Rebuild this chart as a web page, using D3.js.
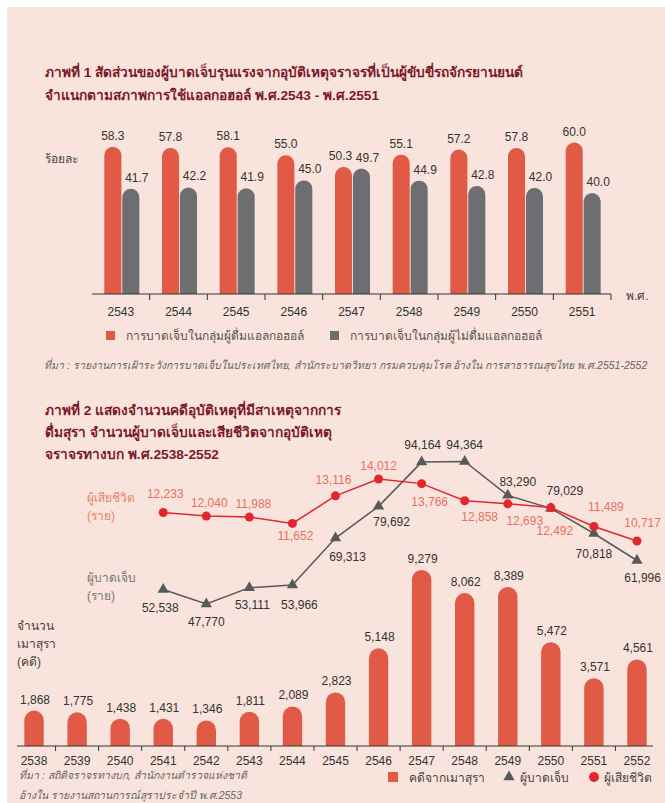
<!DOCTYPE html>
<html>
<head>
<meta charset="utf-8">
<script src="https://cdn.jsdelivr.net/npm/d3@7/dist/d3.min.js"></script>
<style>
  body { margin: 0; background: #fff; }
  svg { display: block; font-family: "Liberation Sans", "Noto Sans", sans-serif; }
  .title { fill: #7d1a2a; font-size: 13.7px; font-weight: bold; }
  .num { fill: #333; font-size: 12px; }
  .year { fill: #333; font-size: 12px; }
  .legend-text { fill: #555; font-size: 12px; }
  .source { fill: #666; font-size: 10.5px; font-style: italic; }
</style>
</head>
<body>
<div id="chart"></div>
<script>
// ภาพที่ 1
const years1 = ["2543", "2544", "2545", "2546", "2547", "2548", "2549", "2550", "2551"];
const drinkers = [58.3, 57.8, 58.1, 55.0, 50.3, 55.1, 57.2, 57.8, 60.0];
const nonDrinkers = [41.7, 42.2, 41.9, 45.0, 49.7, 44.9, 42.8, 42.0, 40.0];
const legend1 = ["การบาดเจ็บในกลุ่มผู้ดื่มแอลกอฮอล์", "การบาดเจ็บในกลุ่มผู้ไม่ดื่มแอลกอฮอล์"];

// ภาพที่ 2
const years2 = ["2538", "2539", "2540", "2541", "2542", "2543", "2544", "2545",
  "2546", "2547", "2548", "2549", "2550", "2551", "2552"];
const drunkCases = [1868, 1775, 1438, 1431, 1346, 1811, 2089, 2823, 5148, 9279, 8062, 8389, 5472, 3571, 4561];
const lineYears = ["2541", "2542", "2543", "2544", "2545", "2546", "2547", "2548", "2549", "2550", "2551", "2552"];
const injured = [52538, 47770, 53111, 53966, 69313, 79692, 94164, 94364, 83290, 79029, 70818, 61996];
const deaths = [12233, 12040, 11988, 11652, 13116, 14012, 13766, 12858, 12693, 12492, 11489, 10717];
const legend2 = ["คดีจากเมาสุรา", "ผู้บาดเจ็บ", "ผู้เสียชีวิต"];

// label nudges (layout only)
const injuredLabelOffset = [[-3, 19], [0, 18], [3, 17], [7, 20], [12, 19], [13, 16],
  [1, -17], [0, -17], [10, -13], [14, -17], [0, 20], [8, 18]];
const deathLabelOffset = [[2, -18], [3, -13], [4, -13], [3, 13], [-2, -16], [0, -13],
  [8, 18], [15, 16], [17, 17], [4, 23], [12, -19], [10, -18]];

const RED = "#e05a45";
const GRAY = "#6d6e71";
const LINE_RED = "#e3262d";
const LINE_GRAY = "#58595b";
const fmt = d3.format(",");

const W = 665, H = 803;
const svg = d3.select("#chart").append("svg")
  .attr("width", W).attr("height", H).attr("viewBox", `0 0 ${W} ${H}`);

svg.append("rect").attr("x", 7).attr("y", 7).attr("width", W - 7).attr("height", H - 7)
  .attr("fill", "#f8e4dc");

/** bar with a fully rounded top */
function roundTop(x, y, w, base) {
  const r = Math.min(w / 2, (base - y));
  return `M${x},${base}V${y + r}A${w / 2},${r} 0 0 1 ${x + w},${y + r}V${base}Z`;
}

// keep a label inside the right edge
function clampX(x, text) {
  const half = text.length * 3.4;
  return Math.min(x, W - 2 - half);
}

// —— ภาพที่ 1 ——
svg.append("text").attr("class", "title").attr("x", 45).attr("y", 77)
  .text("ภาพที่ 1 สัดส่วนของผู้บาดเจ็บรุนแรงจากอุบัติเหตุจราจรที่เป็นผู้ขับขี่รถจักรยานยนต์");
svg.append("text").attr("class", "title").attr("x", 45).attr("y", 100)
  .text("จำแนกตามสภาพการใช้แอลกอฮอล์  พ.ศ.2543 - พ.ศ.2551");

const base1 = 294;
const x0 = d3.scaleBand().domain(years1).range([92, 611]);
const x1 = d3.scaleBand().domain(["drink", "nodrink"])
  .range([(x0.bandwidth() - 35) / 2 + 1, (x0.bandwidth() + 35) / 2 + 1]).paddingInner(0.05);
const y1 = d3.scaleLinear().domain([0, 60]).range([base1, 142.5]);

const rows1 = years1.map((yr, i) => ({ year: yr, drink: drinkers[i], nodrink: nonDrinkers[i] }));
const g1 = svg.append("g");
rows1.forEach((d) => {
  [["drink", RED, 0], ["nodrink", GRAY, 6]].forEach(([k, c, dx]) => {
    const bx = x0(d.year) + x1(k);
    g1.append("path").attr("d", roundTop(bx, y1(d[k]), x1.bandwidth(), base1)).attr("fill", c);
    g1.append("text").attr("class", "num")
      .attr("x", bx + x1.bandwidth() / 2 + dx + (d.year === "2547" && k === "drink" ? -3 : 0))
      .attr("y", y1(d[k]) - 7).attr("text-anchor", "middle").text(d[k].toFixed(1));
  });
});

g1.append("line").attr("x1", 92).attr("x2", 611).attr("y1", base1).attr("y2", base1)
  .attr("stroke", "#333").attr("stroke-width", 1.2);
years1.slice(1).concat(["end"]).forEach((yr) => {
  const tx = yr === "end" ? 611 : x0(yr);
  g1.append("line").attr("x1", tx).attr("x2", tx).attr("y1", base1).attr("y2", base1 + 6)
    .attr("stroke", "#333");
});
g1.selectAll(".year").data(years1).join("text").attr("class", "year")
  .attr("x", (d) => x0(d) + x0.bandwidth() / 2).attr("y", base1 + 22)
  .attr("text-anchor", "middle").text((d) => d);

svg.append("text").attr("class", "legend-text").attr("x", 45).attr("y", 163)
  .style("fill", "#444").text("ร้อยละ");
svg.append("text").attr("class", "legend-text").attr("x", 626).attr("y", 300)
  .style("fill", "#444").text("พ.ศ.");

[[106, RED, legend1[0]], [330, GRAY, legend1[1]]].forEach(([lx, c, t]) => {
  svg.append("rect").attr("x", lx).attr("y", 331).attr("width", 9).attr("height", 9).attr("fill", c);
  svg.append("text").attr("class", "legend-text").attr("x", lx + 20).attr("y", 340).text(t);
});
svg.append("text").attr("class", "source").attr("x", 44).attr("y", 369)
  .text("ที่มา : รายงานการเฝ้าระวังการบาดเจ็บในประเทศไทย, สำนักระบาดวิทยา กรมควบคุมโรค อ้างใน การสาธารณสุขไทย พ.ศ.2551-2552");

// —— ภาพที่ 2 ——
["ภาพที่ 2 แสดงจำนวนคดีอุบัติเหตุที่มีสาเหตุจากการ",
  "ดื่มสุรา  จำนวนผู้บาดเจ็บและเสียชีวิตจากอุบัติเหตุ",
  "จราจรทางบก พ.ศ.2538-2552"].forEach((t, i) => {
  svg.append("text").attr("class", "title").attr("x", 45).attr("y", 415 + i * 22).text(t);
});

const base2 = 746;
const x2 = d3.scaleBand().domain(years2).range([12.5, 658.5]).paddingInner(0.55).paddingOuter(0.275);
const step2 = x2.step();
const cx = (yr) => x2(yr) + x2.bandwidth() / 2;
const y2 = d3.scaleLinear().domain([0, 9279]).range([base2, 570]);
const yInj = d3.scaleLinear().domain([47770, 94364]).range([604, 461.5]);
const yDeath = d3.scaleLinear().domain([10717, 14012]).range([541, 479]);

const g2 = svg.append("g");
years2.forEach((yr, i) => {
  g2.append("path").attr("d", roundTop(x2(yr), y2(drunkCases[i]), x2.bandwidth(), base2)).attr("fill", RED);
  g2.append("text").attr("class", "num").attr("x", cx(yr) + 1).attr("y", y2(drunkCases[i]) - 7)
    .attr("text-anchor", "middle").text(fmt(drunkCases[i]));
});

g2.append("line").attr("x1", 17).attr("x2", 653).attr("y1", base2).attr("y2", base2)
  .attr("stroke", "#333").attr("stroke-width", 1.2);
years2.slice(0, -1).forEach((yr) => {
  const tx = cx(yr) + step2 / 2;
  g2.append("line").attr("x1", tx).attr("x2", tx).attr("y1", base2).attr("y2", base2 + 5)
    .attr("stroke", "#333");
});
g2.selectAll(".year").data(years2).join("text").attr("class", "year")
  .attr("x", (d) => cx(d)).attr("y", base2 + 19).attr("text-anchor", "middle").text((d) => d);

// injured line
const injPts = lineYears.map((yr, i) => [cx(yr), yInj(injured[i])]);
g2.append("path").attr("d", d3.line()(injPts)).attr("fill", "none")
  .attr("stroke", LINE_GRAY).attr("stroke-width", 1.5);
const tri = d3.symbol().type(d3.symbolTriangle).size(55);
injPts.forEach(([px, py], i) => {
  const label = fmt(injured[i]);
  g2.append("path").attr("d", tri()).attr("transform", `translate(${px},${py})`).attr("fill", LINE_GRAY);
  g2.append("text").attr("class", "num").attr("x", clampX(px + injuredLabelOffset[i][0], label))
    .attr("y", py + injuredLabelOffset[i][1]).attr("dominant-baseline", "central")
    .attr("text-anchor", "middle").text(label);
});

// deaths line
const deathPts = lineYears.map((yr, i) => [cx(yr), yDeath(deaths[i])]);
g2.append("path").attr("d", d3.line()(deathPts)).attr("fill", "none")
  .attr("stroke", LINE_RED).attr("stroke-width", 1.5);
deathPts.forEach(([px, py], i) => {
  const label = fmt(deaths[i]);
  g2.append("circle").attr("cx", px).attr("cy", py).attr("r", 4.5).attr("fill", LINE_RED);
  g2.append("text").attr("class", "num").style("fill", "#e8705c")
    .attr("x", clampX(px + deathLabelOffset[i][0], label)).attr("y", py + deathLabelOffset[i][1])
    .attr("dominant-baseline", "central").attr("text-anchor", "middle").text(label);
});

// side labels
[["ผู้เสียชีวิต", 502], ["(ราย)", 520]].forEach(([t, ty]) => {
  svg.append("text").attr("class", "legend-text").style("fill", "#e8826c").attr("x", 87).attr("y", ty).text(t);
});
[["ผู้บาดเจ็บ", 582], ["(ราย)", 600]].forEach(([t, ty]) => {
  svg.append("text").attr("class", "legend-text").style("fill", "#777").attr("x", 87).attr("y", ty).text(t);
});
[["จำนวน", 630], ["เมาสุรา", 648], ["(คดี)", 666]].forEach(([t, ty]) => {
  svg.append("text").attr("class", "legend-text").style("fill", "#444").attr("x", 17).attr("y", ty).text(t);
});

// legend 2
svg.append("rect").attr("x", 388).attr("y", 772).attr("width", 10).attr("height", 10).attr("fill", RED);
svg.append("text").attr("class", "legend-text").attr("x", 409).attr("y", 782).style("fill", "#444").text(legend2[0]);
svg.append("path").attr("d", tri()).attr("transform", "translate(509,777)").attr("fill", LINE_GRAY);
svg.append("text").attr("class", "legend-text").attr("x", 520).attr("y", 782).style("fill", "#444").text(legend2[1]);
svg.append("circle").attr("cx", 594).attr("cy", 777).attr("r", 5).attr("fill", LINE_RED);
svg.append("text").attr("class", "legend-text").attr("x", 604).attr("y", 782).style("fill", "#444").text(legend2[2]);

svg.append("text").attr("class", "source").attr("x", 19).attr("y", 779)
  .text("ที่มา : สถิติจราจรทางบก, สำนักงานตำรวจแห่งชาติ");
svg.append("text").attr("class", "source").attr("x", 19).attr("y", 799)
  .text("อ้างใน รายงานสถานการณ์สุราประจำปี พ.ศ.2553");
</script>
</body>
</html>
